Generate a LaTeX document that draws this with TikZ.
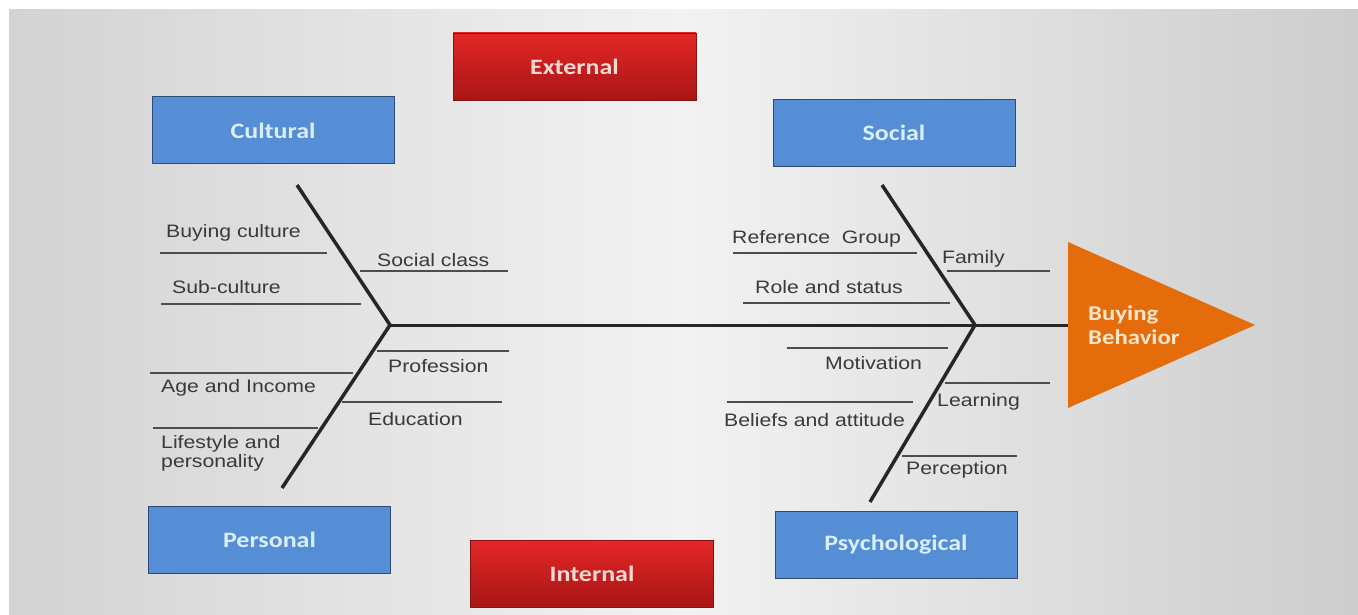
\documentclass[tikz,border=0pt]{standalone}
\usepackage{fontspec}
\setmainfont[FakeStretch=1.18]{Liberation Sans}
\newfontfamily\boxfont[FakeStretch=1.18]{Carlito}
\definecolor{bgin}{HTML}{F2F2F2}
\definecolor{bgout}{HTML}{D3D3D3}
\definecolor{catblue}{HTML}{558ED5}
\definecolor{catedge}{HTML}{2E4A75}
\definecolor{cattext}{HTML}{D9EEFF}
\definecolor{redtop}{HTML}{E42626}
\definecolor{redbot}{HTML}{A81616}
\definecolor{redtext}{HTML}{F9DAD2}
\definecolor{effectfill}{HTML}{E46C0A}
\definecolor{effecttext}{HTML}{FDE6CC}
\definecolor{labeltext}{HTML}{3A3A3A}
\definecolor{twiggrey}{HTML}{4D4D4D}
\tikzset{
  catbox/.style={draw=catedge, line width=1pt, fill=catblue,
    minimum width=242pt, minimum height=67pt, inner sep=0pt,
    text=cattext, font=\boxfont\bfseries\fontsize{22}{26}\selectfont},
  sidebox/.style={top color=redtop, bottom color=redbot, draw=redbot!80!black,
    line width=0.6pt, minimum width=243pt, minimum height=67pt, inner sep=0pt,
    text=redtext, font=\boxfont\bfseries\fontsize{22}{26}\selectfont},
  bone/.style={line width=3.5pt, draw=black!85},
  spine/.style={line width=3pt, draw=black!85},
  twig/.style={line width=1.6pt, draw=twiggrey},
  cause/.style={anchor=base west, inner sep=0pt, text=labeltext,
    font=\fontsize{18}{19}\selectfont},
  effect/.style={anchor=north west, inner sep=0pt, align=left, text=effecttext,
    font=\boxfont\bfseries\fontsize{21}{24}\selectfont}
}
\begin{document}
\begin{tikzpicture}[x=1pt,y=-1pt]

        \useasboundingbox (0,0) rectangle (1358,615);
        \fill[white] (0,0) rectangle (1358,615);
        \shade[left color=bgout, right color=bgout!97!black, middle color=bgin] (9,10) rectangle (1358,615);

        \begin{scope}[every node/.style={sidebox}]
          \node (external) at (574.5,66.5)  {External};
          \node (internal) at (592,573.5)   {Internal};
        \end{scope}

        \begin{scope}[every node/.style={catbox}]
          \node (cultural)      at (273,130.5) {Cultural};
          \node (social)        at (894,133)   {Social};
          \node (personal)      at (269.5,540) {Personal};
          \node (psychological) at (896,545)   {Psychological};
        \end{scope}

        \coordinate (lt)   at (297,185);
        \coordinate (lj)   at (390,325);
        \coordinate (lb)   at (282,488);
        \coordinate (rt)   at (882,185);
        \coordinate (rj)   at (975,325);
        \coordinate (rb)   at (870,502);
        \coordinate (head) at (1068,325);
        \coordinate (ht)   at (1068,242);
        \coordinate (tip)  at (1255,325);
        \coordinate (hb)   at (1068,408);

        \fill[effectfill] (ht) -- (tip) -- (hb) -- cycle;
        \node[effect] (behavior) at (1088,305.5) {Buying\\Behavior};

        \draw[spine] (lj) -- (head);
        \draw[bone] (lt) -- (lj) -- (lb);
        \draw[bone] (rt) -- (rj) -- (rb);

        \begin{scope}[every path/.style={twig}]
          \draw (160,253) -- (327,253);
          \draw (161,304) -- (361,304);
          \draw (360,271) -- (508,271);
          \draw (377,351) -- (509,351);
          \draw (150,373) -- (353,373);
          \draw (342,402) -- (502,402);
          \draw (153,428) -- (318,428);
          \draw (733,253) -- (917,253);
          \draw (947,271) -- (1050,271);
          \draw (743,303) -- (950,303);
          \draw (787,348) -- (948,348);
          \draw (945,383) -- (1050,383);
          \draw (727,402) -- (913,402);
          \draw (902,456) -- (1017,456);
        \end{scope}

        \begin{scope}[every node/.style={cause}]
          \node (buying)     at (166,237) {Buying culture};
          \node (subculture) at (172,293) {Sub-culture};
          \node (class)      at (377,266) {Social class};
          \node (profession) at (388,372) {Profession};
          \node (income)     at (161,392) {Age and Income};
          \node (education)  at (368,425) {Education};
          \node[anchor=north west, align=left] (lifestyle) at (161,435) {Lifestyle and\\personality};
          \node (reference)  at (732,243) {Reference~\ Group};
          \node (family)     at (942,263) {Family};
          \node (role)       at (755,293) {Role and status};
          \node (motivation) at (825,369) {Motivation};
          \node (learning)   at (937,406) {Learning};
          \node (beliefs)    at (724,426) {Beliefs and attitude};
          \node (perception) at (906,474) {Perception};
        \end{scope}

      \end{tikzpicture}
\end{document}
